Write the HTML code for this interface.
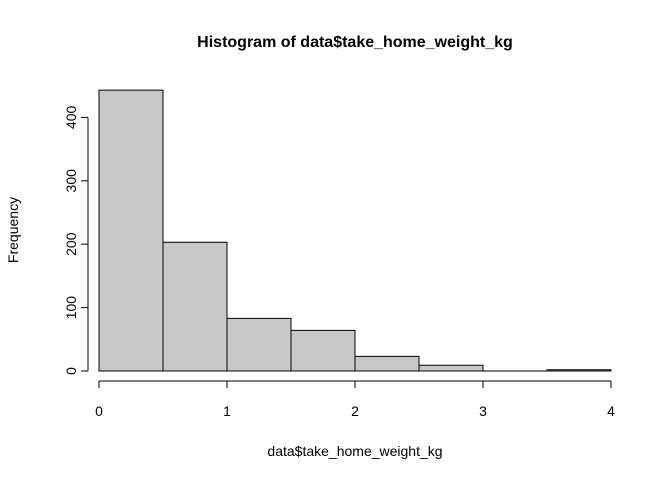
<!DOCTYPE html>
<html><head><meta charset="utf-8"><style>
body{margin:0;background:#fff}
svg{display:block;font-family:"Liberation Sans",Arial,sans-serif}
</style></head><body>
<svg id="chart" width="672" height="480">
<text x="355" y="47" text-anchor="middle" font-size="16" font-weight="bold">Histogram of data$take_home_weight_kg</text>
<text x="355" y="456" text-anchor="middle" font-size="14">data$take_home_weight_kg</text>
<text transform="translate(18,230) rotate(-90)" text-anchor="middle" font-size="14">Frequency</text>
<g id="bars"></g><g id="xaxis"></g><g id="yaxis"></g>
</svg>
<script>
const binEdges=[0,0.5,1,1.5,2,2.5,3,3.5,4];
const counts=[443,203,83,64,23,9,0,2];
const xTicks=[0,1,2,3,4];
const yTicks=[0,100,200,300,400];
const NS="http://www.w3.org/2000/svg";
const xs=v=>99+v*128, ys=v=>371-v*0.634;
function mk(t,a,p){const e=document.createElementNS(NS,t);for(const k in a)e.setAttribute(k,a[k]);p.appendChild(e);return e;}
const bars=document.getElementById('bars');
counts.forEach((c,i)=>{
 const x0=xs(binEdges[i]),x1=xs(binEdges[i+1]),y0=ys(0),y1=ys(c);
 const r=mk('path',{d:`M${x0},${y0}L${x0},${y1}L${x1},${y1}L${x1},${y0}Z`,fill:'#c8c8c8',stroke:'#000','stroke-width':1},bars);
 
 
});
const xa=document.getElementById('xaxis');
mk('line',{x1:xs(xTicks[0]),x2:xs(xTicks[xTicks.length-1]),y1:381,y2:381,stroke:'#000'},xa);
xTicks.forEach(t=>{
 mk('line',{x1:xs(t),x2:xs(t),y1:381,y2:388,stroke:'#000'},xa);
 const l=mk('text',{x:xs(t),y:416,'text-anchor':'middle','font-size':14},xa);l.textContent=t;
 
 
});
const ya=document.getElementById('yaxis');
mk('line',{x1:88,x2:88,y1:ys(yTicks[0]),y2:ys(yTicks[yTicks.length-1]),stroke:'#000'},ya);
yTicks.forEach(t=>{
 mk('line',{x1:81,x2:88,y1:ys(t),y2:ys(t),stroke:'#000'},ya);
 const l=mk('text',{transform:`translate(76,${ys(t)}) rotate(-90)`,'text-anchor':'middle','font-size':14},ya);l.textContent=t;
 
 
});
</script>
</body></html>
